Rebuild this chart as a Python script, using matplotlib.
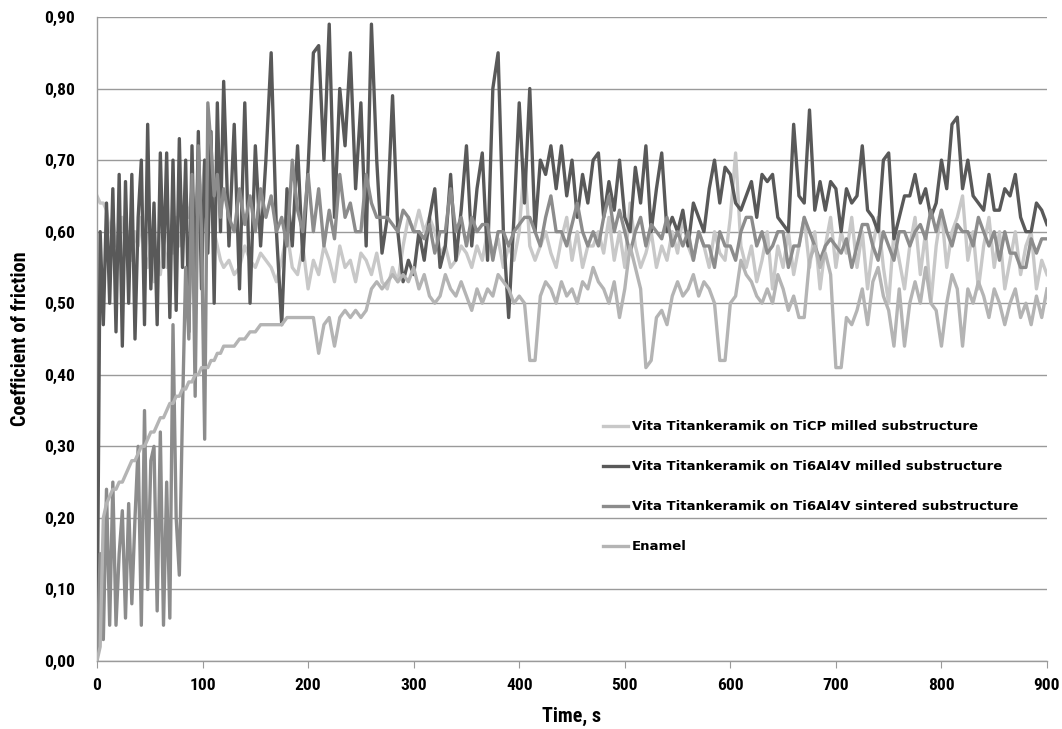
import numpy as np
import matplotlib
matplotlib.use("Agg")
import matplotlib.pyplot as plt
from matplotlib import font_manager
from matplotlib.ticker import FuncFormatter

# ---------------- data ----------------
t_early = np.arange(0, 120, 3)      # 40 samples, 0..117 s
t_late = np.arange(120, 901, 5)     # 157 samples, 120..900 s

ticp_early = [0.65, 0.64, 0.64, 0.63, 0.60, 0.62, 0.58, 0.60, 0.62, 0.58,
              0.60, 0.56, 0.60, 0.58, 0.62, 0.57, 0.55, 0.58, 0.53, 0.56,
              0.54, 0.58, 0.55, 0.60, 0.57, 0.62, 0.58, 0.60, 0.64, 0.62,
              0.66, 0.62, 0.68, 0.64, 0.70, 0.62, 0.66, 0.60, 0.58, 0.56]
ticp_late = [0.55, 0.56, 0.54, 0.55, 0.58, 0.56, 0.55, 0.57, 0.56, 0.55,
             0.53, 0.56, 0.60, 0.55, 0.54, 0.58, 0.52, 0.56, 0.54, 0.58,
             0.56, 0.53, 0.58, 0.55, 0.56, 0.53, 0.57, 0.56, 0.54, 0.57,
             0.53, 0.52, 0.55, 0.53, 0.58, 0.62, 0.60, 0.63, 0.60, 0.62,
             0.60, 0.57, 0.58, 0.55, 0.56, 0.58, 0.57, 0.55, 0.58, 0.56,
             0.60, 0.57, 0.59, 0.55, 0.58, 0.56, 0.60, 0.70, 0.58, 0.56,
             0.58, 0.60, 0.57, 0.55, 0.59, 0.62, 0.56, 0.60, 0.55, 0.58,
             0.58, 0.60, 0.57, 0.62, 0.56, 0.60, 0.55, 0.64, 0.58, 0.55,
             0.57, 0.60, 0.55, 0.58, 0.56, 0.60, 0.57, 0.62, 0.58, 0.56,
             0.60, 0.58, 0.55, 0.60, 0.57, 0.56, 0.62, 0.71, 0.58, 0.55,
             0.58, 0.53, 0.56, 0.60, 0.52, 0.58, 0.55, 0.60, 0.54, 0.58,
             0.62, 0.55, 0.60, 0.52, 0.58, 0.62, 0.55, 0.60, 0.57, 0.62,
             0.55, 0.60, 0.52, 0.58, 0.62, 0.55, 0.50, 0.60, 0.56, 0.52,
             0.58, 0.62, 0.54, 0.60, 0.50, 0.58, 0.63, 0.55, 0.60, 0.62,
             0.65, 0.56, 0.60, 0.52, 0.58, 0.62, 0.55, 0.60, 0.52, 0.56,
             0.60, 0.54, 0.58, 0.60, 0.52, 0.56, 0.54]

milled_early = [0.00, 0.60, 0.47, 0.64, 0.50, 0.66, 0.46, 0.68, 0.44, 0.67,
                0.50, 0.68, 0.45, 0.62, 0.70, 0.47, 0.75, 0.52, 0.64, 0.47,
                0.71, 0.55, 0.71, 0.48, 0.70, 0.49, 0.73, 0.55, 0.70, 0.46,
                0.72, 0.50, 0.74, 0.52, 0.70, 0.57, 0.74, 0.50, 0.78, 0.60]
milled_late = [0.81, 0.58, 0.75, 0.52, 0.78, 0.50, 0.72, 0.58, 0.70, 0.85,
               0.60, 0.47, 0.66, 0.58, 0.72, 0.56, 0.69, 0.85, 0.86, 0.70,
               0.89, 0.62, 0.80, 0.72, 0.85, 0.66, 0.78, 0.58, 0.89, 0.70,
               0.57, 0.62, 0.79, 0.60, 0.53, 0.56, 0.54, 0.60, 0.56, 0.62,
               0.66, 0.55, 0.58, 0.68, 0.56, 0.63, 0.72, 0.58, 0.66, 0.71,
               0.56, 0.80, 0.85, 0.60, 0.48, 0.62, 0.78, 0.64, 0.80, 0.60,
               0.70, 0.68, 0.72, 0.66, 0.72, 0.65, 0.70, 0.62, 0.68, 0.64,
               0.70, 0.71, 0.62, 0.67, 0.63, 0.70, 0.62, 0.60, 0.69, 0.64,
               0.72, 0.60, 0.66, 0.71, 0.60, 0.62, 0.60, 0.63, 0.58, 0.64,
               0.62, 0.60, 0.66, 0.70, 0.64, 0.69, 0.68, 0.64, 0.63, 0.65,
               0.67, 0.62, 0.68, 0.67, 0.68, 0.62, 0.61, 0.60, 0.75, 0.65,
               0.64, 0.77, 0.63, 0.67, 0.63, 0.67, 0.66, 0.60, 0.66, 0.64,
               0.65, 0.72, 0.63, 0.62, 0.60, 0.70, 0.71, 0.59, 0.62, 0.65,
               0.65, 0.68, 0.64, 0.66, 0.62, 0.64, 0.70, 0.66, 0.75, 0.76,
               0.66, 0.70, 0.65, 0.64, 0.63, 0.68, 0.63, 0.63, 0.66, 0.65,
               0.68, 0.62, 0.60, 0.60, 0.64, 0.63, 0.61]

sintered_early = [0.00, 0.15, 0.03, 0.24, 0.05, 0.25, 0.05, 0.15, 0.21, 0.06,
                  0.22, 0.08, 0.20, 0.30, 0.05, 0.35, 0.10, 0.28, 0.30, 0.07,
                  0.32, 0.05, 0.25, 0.06, 0.47, 0.20, 0.12, 0.35, 0.55, 0.45,
                  0.68, 0.37, 0.72, 0.60, 0.31, 0.78, 0.72, 0.65, 0.68, 0.62]
sintered_late = [0.66, 0.62, 0.60, 0.66, 0.61, 0.65, 0.60, 0.66, 0.62, 0.65,
                 0.60, 0.62, 0.58, 0.70, 0.63, 0.60, 0.68, 0.60, 0.66, 0.58,
                 0.63, 0.59, 0.68, 0.62, 0.64, 0.60, 0.60, 0.68, 0.64, 0.62,
                 0.62, 0.62, 0.61, 0.60, 0.63, 0.62, 0.60, 0.60, 0.59, 0.61,
                 0.57, 0.60, 0.60, 0.66, 0.60, 0.62, 0.58, 0.62, 0.60, 0.61,
                 0.61, 0.56, 0.60, 0.60, 0.58, 0.60, 0.61, 0.62, 0.62, 0.60,
                 0.58, 0.62, 0.65, 0.60, 0.60, 0.58, 0.61, 0.64, 0.60, 0.58,
                 0.60, 0.58, 0.62, 0.65, 0.60, 0.63, 0.60, 0.57, 0.60, 0.62,
                 0.58, 0.61, 0.60, 0.59, 0.62, 0.58, 0.60, 0.58, 0.60, 0.56,
                 0.60, 0.58, 0.58, 0.55, 0.60, 0.58, 0.58, 0.56, 0.60, 0.62,
                 0.62, 0.58, 0.60, 0.57, 0.58, 0.60, 0.60, 0.55, 0.58, 0.58,
                 0.62, 0.60, 0.58, 0.56, 0.58, 0.59, 0.58, 0.57, 0.59, 0.55,
                 0.58, 0.61, 0.61, 0.58, 0.56, 0.60, 0.58, 0.56, 0.60, 0.60,
                 0.58, 0.60, 0.61, 0.59, 0.63, 0.60, 0.63, 0.60, 0.58, 0.61,
                 0.60, 0.60, 0.58, 0.62, 0.60, 0.58, 0.60, 0.56, 0.60, 0.57,
                 0.57, 0.55, 0.55, 0.59, 0.57, 0.59, 0.59]

enamel_early = [0.00, 0.02, 0.20, 0.22, 0.23, 0.24, 0.24, 0.25, 0.25, 0.26,
                0.27, 0.28, 0.28, 0.29, 0.30, 0.30, 0.31, 0.32, 0.32, 0.33,
                0.34, 0.34, 0.35, 0.36, 0.36, 0.37, 0.37, 0.38, 0.38, 0.39,
                0.39, 0.40, 0.40, 0.41, 0.41, 0.41, 0.42, 0.42, 0.43, 0.43]
enamel_late = [0.44, 0.44, 0.44, 0.45, 0.45, 0.46, 0.46, 0.47, 0.47, 0.47,
               0.47, 0.47, 0.48, 0.48, 0.48, 0.48, 0.48, 0.48, 0.43, 0.47,
               0.48, 0.44, 0.48, 0.49, 0.48, 0.49, 0.48, 0.49, 0.52, 0.53,
               0.52, 0.53, 0.54, 0.53, 0.54, 0.53, 0.55, 0.52, 0.54, 0.51,
               0.50, 0.51, 0.54, 0.52, 0.51, 0.53, 0.51, 0.49, 0.52, 0.50,
               0.52, 0.51, 0.54, 0.53, 0.52, 0.50, 0.51, 0.50, 0.42, 0.42,
               0.51, 0.53, 0.52, 0.50, 0.53, 0.51, 0.52, 0.50, 0.53, 0.52,
               0.55, 0.53, 0.52, 0.50, 0.53, 0.48, 0.52, 0.58, 0.55, 0.52,
               0.41, 0.42, 0.48, 0.49, 0.47, 0.51, 0.53, 0.51, 0.52, 0.54,
               0.51, 0.53, 0.52, 0.50, 0.42, 0.42, 0.50, 0.51, 0.56, 0.54,
               0.53, 0.51, 0.50, 0.52, 0.50, 0.54, 0.52, 0.49, 0.51, 0.48,
               0.48, 0.56, 0.58, 0.55, 0.57, 0.54, 0.41, 0.41, 0.48, 0.47,
               0.49, 0.52, 0.47, 0.53, 0.55, 0.51, 0.49, 0.44, 0.52, 0.44,
               0.50, 0.53, 0.50, 0.55, 0.50, 0.49, 0.44, 0.50, 0.54, 0.52,
               0.44, 0.52, 0.50, 0.53, 0.51, 0.48, 0.52, 0.50, 0.47, 0.50,
               0.52, 0.48, 0.50, 0.47, 0.51, 0.48, 0.52]

labels = ["Vita Titankeramik on TiCP milled substructure",
          "Vita Titankeramik on Ti6Al4V milled substructure",
          "Vita Titankeramik on Ti6Al4V sintered substructure",
          "Enamel"]
colors = ["#c8c8c8", "#595959", "#8c8c8c", "#b4b4b4"]

x_ticks = [0, 100, 200, 300, 400, 500, 600, 700, 800, 900]
y_ticks = [0.0, 0.1, 0.2, 0.3, 0.4, 0.5, 0.6, 0.7, 0.8, 0.9]

# ---------------- fonts ----------------
names = {f.name for f in font_manager.fontManager.ttflist}
narrow_fam = None
for cand in ["Liberation Sans Narrow", "DejaVu Sans Condensed", "Roboto Condensed",
             "Open Sans Condensed", "Noto Sans Condensed"]:
    if cand in names:
        narrow_fam = cand
        break
narrow_stretch = "normal"
if narrow_fam is None:
    narrow_fam = "DejaVu Sans"
    narrow_stretch = "condensed"
narrow = [narrow_fam, "DejaVu Sans"]

# ---------------- plot ----------------
fig = plt.figure(figsize=(10.62, 7.29), dpi=100)
ax = fig.add_axes([97 / 1062, 1 - 661 / 729, 950 / 1062, 644 / 729])

t_all = np.concatenate([t_early, t_late])
series = [ticp_early + ticp_late, milled_early + milled_late,
          sintered_early + sintered_late, enamel_early + enamel_late]
for i, (vals, lab, col) in enumerate(zip(series, labels, colors)):
    ax.plot(t_all, vals, color=col, lw=2.4, label=lab, zorder=2 + i,
            solid_joinstyle="round")

ax.set_xlim(0, 900)
ax.set_ylim(0, 0.9)
ax.set_xticks(x_ticks)
ax.set_yticks(y_ticks)
ax.yaxis.set_major_formatter(FuncFormatter(lambda v, p: f"{v:.2f}".replace(".", ",")))
ax.grid(axis="y", color="#9a9a9a", lw=1.0, zorder=0)
ax.set_axisbelow(True)
for s in ["top", "right"]:
    ax.spines[s].set_visible(False)
for s in ["left", "bottom"]:
    ax.spines[s].set_color("#9a9a9a")
    ax.spines[s].set_linewidth(1.0)
ax.tick_params(axis="x", direction="out", length=5, color="#9a9a9a", pad=7)
ax.tick_params(axis="y", length=0, pad=16)
for lbl in ax.get_xticklabels() + ax.get_yticklabels():
    lbl.set_family(narrow)
    lbl.set_stretch(narrow_stretch)
    lbl.set_fontweight("bold")
    lbl.set_fontsize(12.5)

ax.set_xlabel("Time, s", family=narrow, stretch=narrow_stretch,
              fontweight="bold", fontsize=14.5, labelpad=10)
ax.set_ylabel("Coefficient of friction", family=narrow, stretch=narrow_stretch,
              fontweight="bold", fontsize=14.5, labelpad=10)

leg = ax.legend(loc="upper left", bbox_to_anchor=(598 / 1062, 1 - 415 / 729),
                bbox_transform=fig.transFigure, frameon=False,
                prop={"family": "DejaVu Sans", "weight": "bold", "size": 9.5},
                handlelength=1.9, handletextpad=0.25, labelspacing=2.05,
                borderaxespad=0)

fig.savefig("out.png", dpi=100)
